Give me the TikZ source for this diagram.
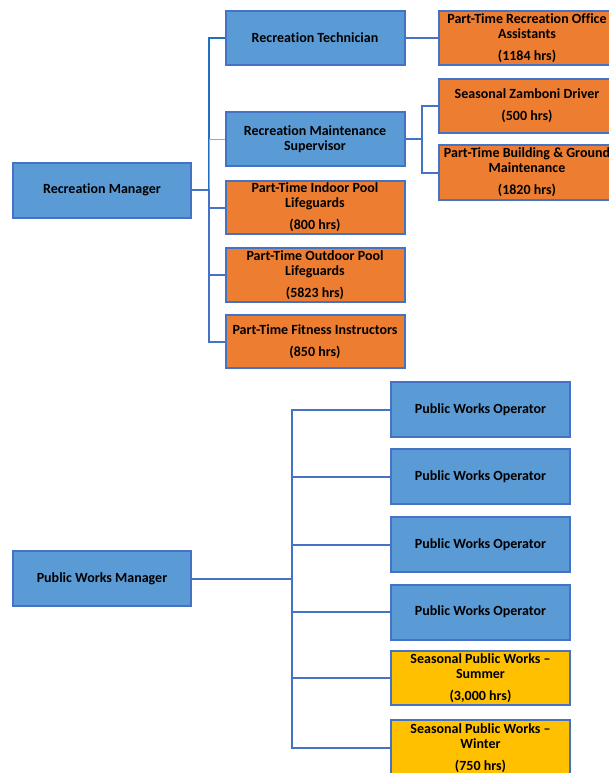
\documentclass[tikz,border=0pt]{standalone}
\usepackage{fontspec}
\setmainfont{Carlito}[Ligatures=NoCommon]
\usetikzlibrary{positioning}

\definecolor{boxline}{HTML}{4472C4}
\definecolor{bluefill}{HTML}{5B9BD5}
\definecolor{orangefill}{HTML}{ED7D31}
\definecolor{yellowfill}{HTML}{FFC000}
\definecolor{darklink}{HTML}{1F70C0}

\tikzset{
  box/.style={draw=boxline, line width=2pt, align=center, inner sep=0pt,
    font=\fontsize{14}{15}\bfseries\selectfont, text=black},
  bluebox/.style={box, fill=bluefill},
  orangebox/.style={box, fill=orangefill},
  yellowbox/.style={box, fill=yellowfill},
  link/.style={draw=boxline, line width=2pt},
  thinlink/.style={draw=bluefill!80, line width=0.8pt}
}

\begin{document}
\begin{tikzpicture}[x=1pt,y=-1pt]
  \useasboundingbox (0,0) rectangle (609,773);
  \clip (0,0) rectangle (609,773);

  % recreation
  \node (rm) [bluebox, minimum width=178, minimum height=55] at (102,190) {Recreation Manager};
  \node (rt) [bluebox, minimum width=179, minimum height=54] at (315,38) {Recreation Technician};
  \node (rms) [bluebox, minimum width=179, minimum height=54] at (315,139) {Recreation Maintenance\\Supervisor};
  \node (pin) [orangebox, minimum width=179, minimum height=53] at (315,207.5) {Part-Time Indoor Pool\\Lifeguards\\[7pt](800 hrs)};
  \node (pout) [orangebox, minimum width=179, minimum height=54] at (315,275) {Part-Time Outdoor Pool\\Lifeguards\\[7pt](5823 hrs)};
  \node (pfit) [orangebox, minimum width=179, minimum height=53] at (315,341.5) {Part-Time Fitness Instructors\\[7pt](850 hrs)};
  \node (poa) [orangebox, minimum width=176, minimum height=54] at (527,38) {Part-Time Recreation Office\\Assistants\\[7pt](1184 hrs)};
  \node (zam) [orangebox, minimum width=176, minimum height=54] at (527,106) {Seasonal Zamboni Driver\\[7pt](500 hrs)};
  \node (bgm) [orangebox, minimum width=176, minimum height=55] at (527,172.5) {Part-Time Building \& Ground\\Maintenance\\[7pt](1820 hrs)};

  \draw[link, draw=darklink] (rm.east) -- ++(17,0) |- (rt.west);
  \draw[thinlink] (rm.east) ++(17,0) |- (rms.west);
  \draw[link] (rm.east) -- ++(17,0) |- (pin.west);
  \draw[link] (rm.east) -- ++(17,0) |- (pout.west);
  \draw[link] (rm.east) -- ++(17,0) |- (pfit.west);
  \draw[link] (rt.east) -- (poa.west);
  \draw[link] (rms.east) -- ++(16,0) |- (zam.west);
  \draw[link] (rms.east) -- ++(16,0) |- (bgm.west);

  % public works
  \node (pwm) [bluebox, minimum width=178, minimum height=55] at (102,578.5) {Public Works Manager};
  \foreach \name/\y in {op1/409.5, op2/476.5, op3/544.5, op4/612}
    \node (\name) [bluebox, minimum width=179, minimum height=55] at (480.5,\y) {Public Works Operator};
  \node (sum) [yellowbox, minimum width=179, minimum height=54] at (480.5,678) {Seasonal Public Works --\\Summer\\[7pt](3,000 hrs)};
  \node (win) [yellowbox, minimum width=179, minimum height=56] at (480.5,748) {Seasonal Public Works --\\Winter\\[7pt](750 hrs)};

  \foreach \name in {op1,op2,op3,op4,sum,win}
    \draw[link] (pwm.east) -- ++(100,0) |- (\name.west);
\end{tikzpicture}
\end{document}
